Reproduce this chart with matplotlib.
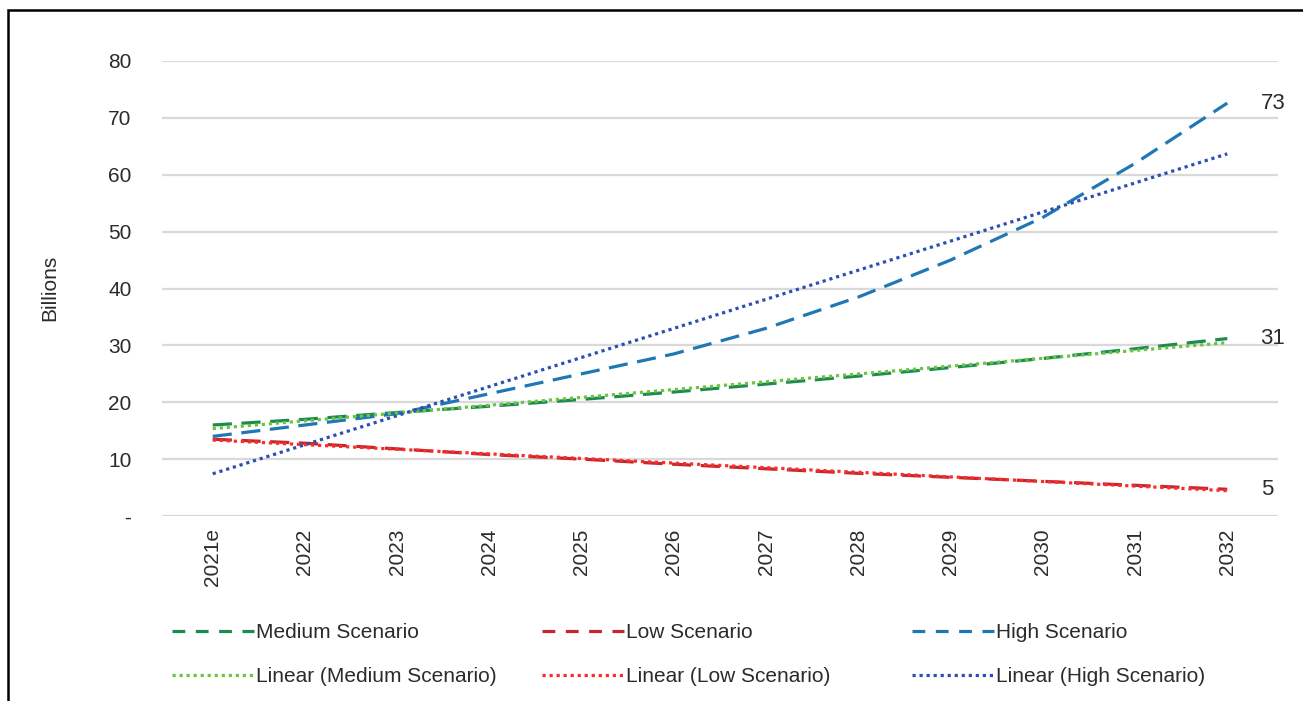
import numpy as np
import matplotlib
matplotlib.use("Agg")
import matplotlib.pyplot as plt
from matplotlib.patches import Rectangle
from matplotlib.lines import Line2D

years = ["2021e", "2022", "2023", "2024", "2025", "2026",
         "2027", "2028", "2029", "2030", "2031", "2032"]
medium = [16.0, 17.0, 18.2, 19.3, 20.5, 21.8, 23.2, 24.6, 26.1, 27.7, 29.4, 31.2]
low = [13.5, 12.8, 11.8, 10.8, 10.0, 9.1, 8.3, 7.5, 6.8, 6.1, 5.4, 4.7]
high = [14.0, 16.0, 18.0, 21.5, 25.0, 28.5, 33.0, 38.5, 45.0, 52.5, 62.0, 72.6]
y_ticks = [0, 10, 20, 30, 40, 50, 60, 70, 80]
y_labels = ["-", "10", "20", "30", "40", "50", "60", "70", "80"]

plt.rcParams["font.family"] = ["Liberation Sans", "DejaVu Sans"]
txt = "#2b2b2b"
fs = 15

W, H = 1303, 701
fig = plt.figure(figsize=(W / 100, H / 100), dpi=100)
ax = fig.add_axes([162 / W, 1 - 516 / H, (1278 - 162) / W, (516 - 61) / H])

x = np.arange(len(years))
dash = (0, (6, 3))
dot = (0, (1, 1.2))
series = [
    ("Medium Scenario", medium, "#1d8a52", "#6cc43f"),
    ("Low Scenario", low, "#c3282e", "#ff2b2b"),
    ("High Scenario", high, "#1f78b4", "#2b4fb6"),
]

for name, vals, c_main, c_lin in series:
    ax.plot(x, vals, color=c_main, lw=2.3, linestyle=dash, zorder=3)
for name, vals, c_main, c_lin in series:
    # Excel style linear trendline of each scenario
    k, b = np.polyfit(x, vals, 1)
    ax.plot(x, k * x + b, color=c_lin, lw=2.3, linestyle=dot, zorder=4)

# value labels at the last point
for name, vals, c_main, c_lin in series:
    ax.annotate(f"{vals[-1]:.0f}", (x[-1], vals[-1]), xytext=(24, 0),
                textcoords="offset points", ha="left", va="center",
                fontsize=fs + 1, color=txt, annotation_clip=False)

ax.set_xlim(-0.55, 11.55)
ax.set_ylim(0, 80)
ax.set_yticks(y_ticks)
ax.set_yticklabels(y_labels)
ax.set_xticks(x)
ax.set_xticklabels(years, rotation=90)
ax.tick_params(axis="both", length=0, labelsize=fs, labelcolor=txt)
ax.tick_params(axis="y", pad=22)
ax.tick_params(axis="x", pad=9)
ax.grid(axis="y", color="#d9d9d9", lw=1.6)
ax.set_axisbelow(True)
for s in ax.spines.values():
    s.set_visible(False)

fig.text(50 / W, 1 - 288 / H, "Billions", rotation=90, ha="center", va="center",
         fontsize=fs, color=txt)

# legend: three columns, each one small legend with shorter dashes
col_x = [172, 542, 912]
for i, (name, vals, c_main, c_lin) in enumerate(series):
    hs = [Line2D([], [], color=c_main, lw=2.3, linestyle=(0, (4, 3.3))),
          Line2D([], [], color=c_lin, lw=2.3, linestyle=dot)]
    ls = [name, "Linear (" + name + ")"]
    fig.legend(hs, ls, loc="upper left", bbox_to_anchor=(col_x[i] / W, 1 - 623 / H),
               frameon=False, fontsize=fs, handlelength=3.95, handletextpad=0.1,
               labelspacing=1.2, borderpad=0, borderaxespad=0, labelcolor=txt)

fig.patches.append(Rectangle((7.5 / W, -0.1), 2, 1.1 - 9.5 / H, transform=fig.transFigure,
                             fill=False, lw=1.8, edgecolor="black"))

fig.savefig("out.png", dpi=100)
